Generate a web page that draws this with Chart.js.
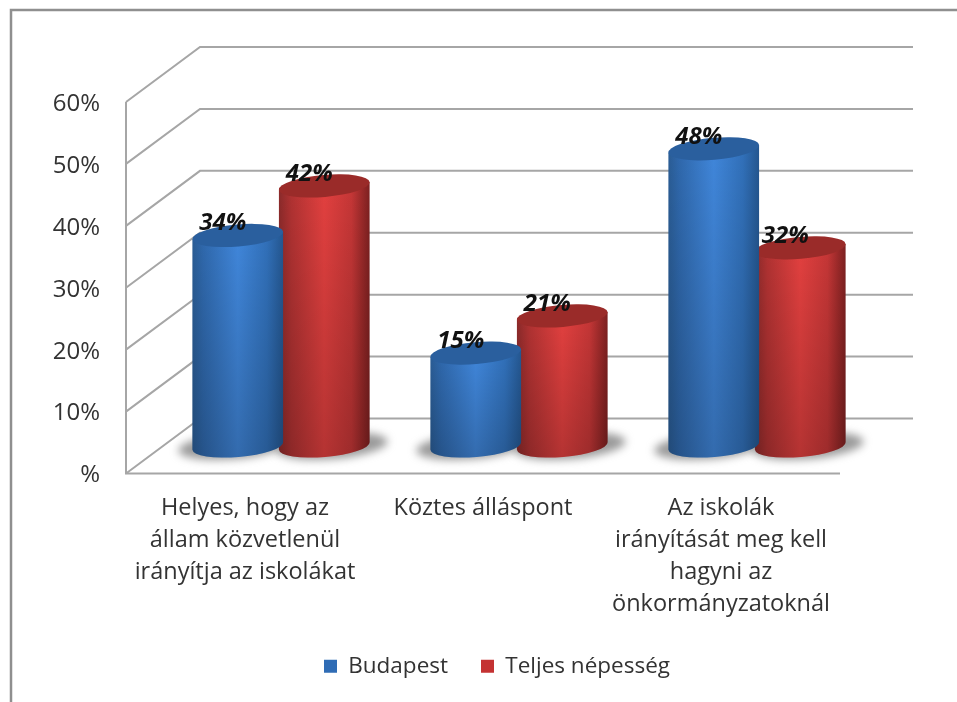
<!DOCTYPE html>
<html>
<head>
<meta charset="utf-8">
<style>
html,body{margin:0;padding:0;background:#fff;overflow:hidden;}
canvas{display:block;filter:blur(0.5px);}
</style>
<script src="https://cdn.jsdelivr.net/npm/chart.js@4"></script>
</head>
<body>
<canvas id="c" width="957" height="702"></canvas>
<script>
const categories = [
  ['Helyes, hogy az','állam közvetlenül','irányítja az iskolákat'],
  ['Köztes álláspont'],
  ['Az iskolák','irányítását meg kell','hagyni az','önkormányzatoknál']
];
const budapest = [34, 15, 48];
const teljes = [42, 21, 32];
const seriesNames = ['Budapest', 'Teljes népesség'];
const yTickLabels = ['%','10%','20%','30%','40%','50%','60%'];

const FONT = "'Open Sans', sans-serif";
const DX = 74, DY = 55;           // depth of the floor
const BX = 36;                    // horizontal depth of the cylinders
const ROT = -0.085, RY = 11;      // cylinder ellipse
const GRID = '#a6a6a6';

const ramps = [
  {stops:[[0,'#2a5c94'],[.12,'#2f68ac'],[.5,'#4086da'],[.82,'#3170b9'],[1,'#24568f']], top:'#2a5f9e'},
  {stops:[[0,'#8a2a2a'],[.14,'#b03232'],[.5,'#e2403f'],[.8,'#c43636'],[1,'#7c2020']], top:'#9a2b29'}
];

const cylinderPlugin = {
  id: 'cylinder',
  beforeDraw(chart){
    const c = chart.ctx;
    c.save();
    c.strokeStyle = '#8f8f8f'; c.lineWidth = 2.5;
    c.beginPath(); c.moveTo(11,702); c.lineTo(11,10); c.lineTo(957,10); c.stroke();
    c.restore();
  },
  beforeDatasetsDraw(chart){
    const c = chart.ctx, y = chart.scales.y, a = chart.chartArea;
    c.save();
    c.strokeStyle = GRID; c.lineWidth = 2;
    y.ticks.forEach(t => {
      const p = y.getPixelForValue(t.value);
      c.beginPath();
      c.moveTo(a.left, p);
      c.lineTo(a.left + DX, p - DY);
      c.lineTo(a.right + DX - 1, p - DY);
      c.stroke();
    });
    c.beginPath();
    c.moveTo(a.left, y.getPixelForValue(60));
    c.lineTo(a.left, a.bottom);
    c.lineTo(a.right, a.bottom);
    c.stroke();
    // floor shadows
    c.filter = 'blur(4px)';
    c.fillStyle = 'rgba(120,120,120,.75)';
    chart.data.datasets.forEach((d, i) => {
      chart.getDatasetMeta(i).data.forEach(b => {
        const cx = b.x + BX, by = b.base - DY/2;
        const off = i === 0 ? -4 : 8;
        c.beginPath();
        c.ellipse(cx + off, by, b.width/2 + 10, RY + 2, ROT, 0, Math.PI*2);
        c.fill();
      });
    });
    c.filter = 'none';
    c.restore();
  },
  beforeDatasetDraw(chart, args){
    const c = chart.ctx, r = ramps[args.index];
    const meta = chart.getDatasetMeta(args.index);
    meta.data.forEach(b => {
      const cx = b.x + BX, ty = b.y - DY/2, by = b.base - DY/2, rx = b.width/2;
      const ex = rx*Math.cos(ROT), ey = rx*Math.sin(ROT);
      c.save();
      c.beginPath();
      c.moveTo(cx - ex, ty - ey);
      c.lineTo(cx - ex, by - ey);
      c.ellipse(cx, by, rx, RY, ROT, Math.PI, 0, true);
      c.lineTo(cx + ex, ty + ey);
      c.closePath();
      const g = c.createLinearGradient(cx - rx, 0, cx + rx, 0);
      r.stops.forEach(s => g.addColorStop(s[0], s[1]));
      c.fillStyle = g; c.fill();
      const v = c.createLinearGradient(0, ty, 0, by + RY);
      v.addColorStop(0, 'rgba(0,0,0,0)');
      v.addColorStop(1, 'rgba(0,0,0,.2)');
      c.fillStyle = v; c.fill();
      c.beginPath();
      c.ellipse(cx, ty, rx, RY, ROT, 0, Math.PI*2);
      c.fillStyle = r.top; c.fill();
      c.restore();
    });
    return false;
  },
  afterDatasetsDraw(chart){
    const c = chart.ctx;
    c.save();
    c.font = "italic bold 24px " + FONT;
    c.fillStyle = '#111';
    c.textAlign = 'center'; c.textBaseline = 'middle';
    chart.data.datasets.forEach((d, i) => {
      chart.getDatasetMeta(i).data.forEach((b, j) => {
        c.fillText(d.data[j] + '%', b.x + BX - 15, b.y - DY/2 - 12);
      });
    });
    c.restore();
  },
  afterLayout(chart){
    const l = chart.legend;
    const target = 497 - (l.left + l.right)/2;
    l.left += target; l.right += target;
    l.top = 622; l.bottom = 702;
  }
};

new Chart(document.getElementById('c'), {
  type: 'bar',
  plugins: [cylinderPlugin],
  data: {
    labels: categories,
    datasets: [
      {label: seriesNames[0], data: budapest, backgroundColor: '#2f6cb5'},
      {label: seriesNames[1], data: teljes, backgroundColor: '#c43232'}
    ]
  },
  options: {
    responsive: false,
    animation: false,
    layout: {autoPadding:false, padding: {top:102, left:0, right:117, bottom:0}},
    datasets: {bar: {categoryPercentage: 0.727, barPercentage: 1.052}},
    plugins: {
      tooltip: {enabled:false},
      title: {display:false},
      legend: {
        position: 'bottom',
        labels: {
          boxWidth: 13, boxHeight: 13, padding: 33, color: '#333',
          font: {family: FONT, size: 22.5}
        }
      }
    },
    scales: {
      x: {
        grid: {display:false}, border: {display:false},
        afterFit(s){ s.height = 163; },
        ticks: {
          color:'#333', padding: 11, maxRotation:0, minRotation:0, autoSkip:false,
          font: {family: FONT, size: 23.5, lineHeight: 32/23.5}
        }
      },
      y: {
        min: 0, max: 60,
        grid: {display:false}, border: {display:false},
        afterFit(s){ s.width = 126; },
        ticks: {
          stepSize: 10, color:'#333', padding: 18, labelOffset: 2,
          font: {family: FONT, size: 24},
          callback: (v, i) => yTickLabels[i]
        }
      }
    }
  }
});
</script>
</body>
</html>
